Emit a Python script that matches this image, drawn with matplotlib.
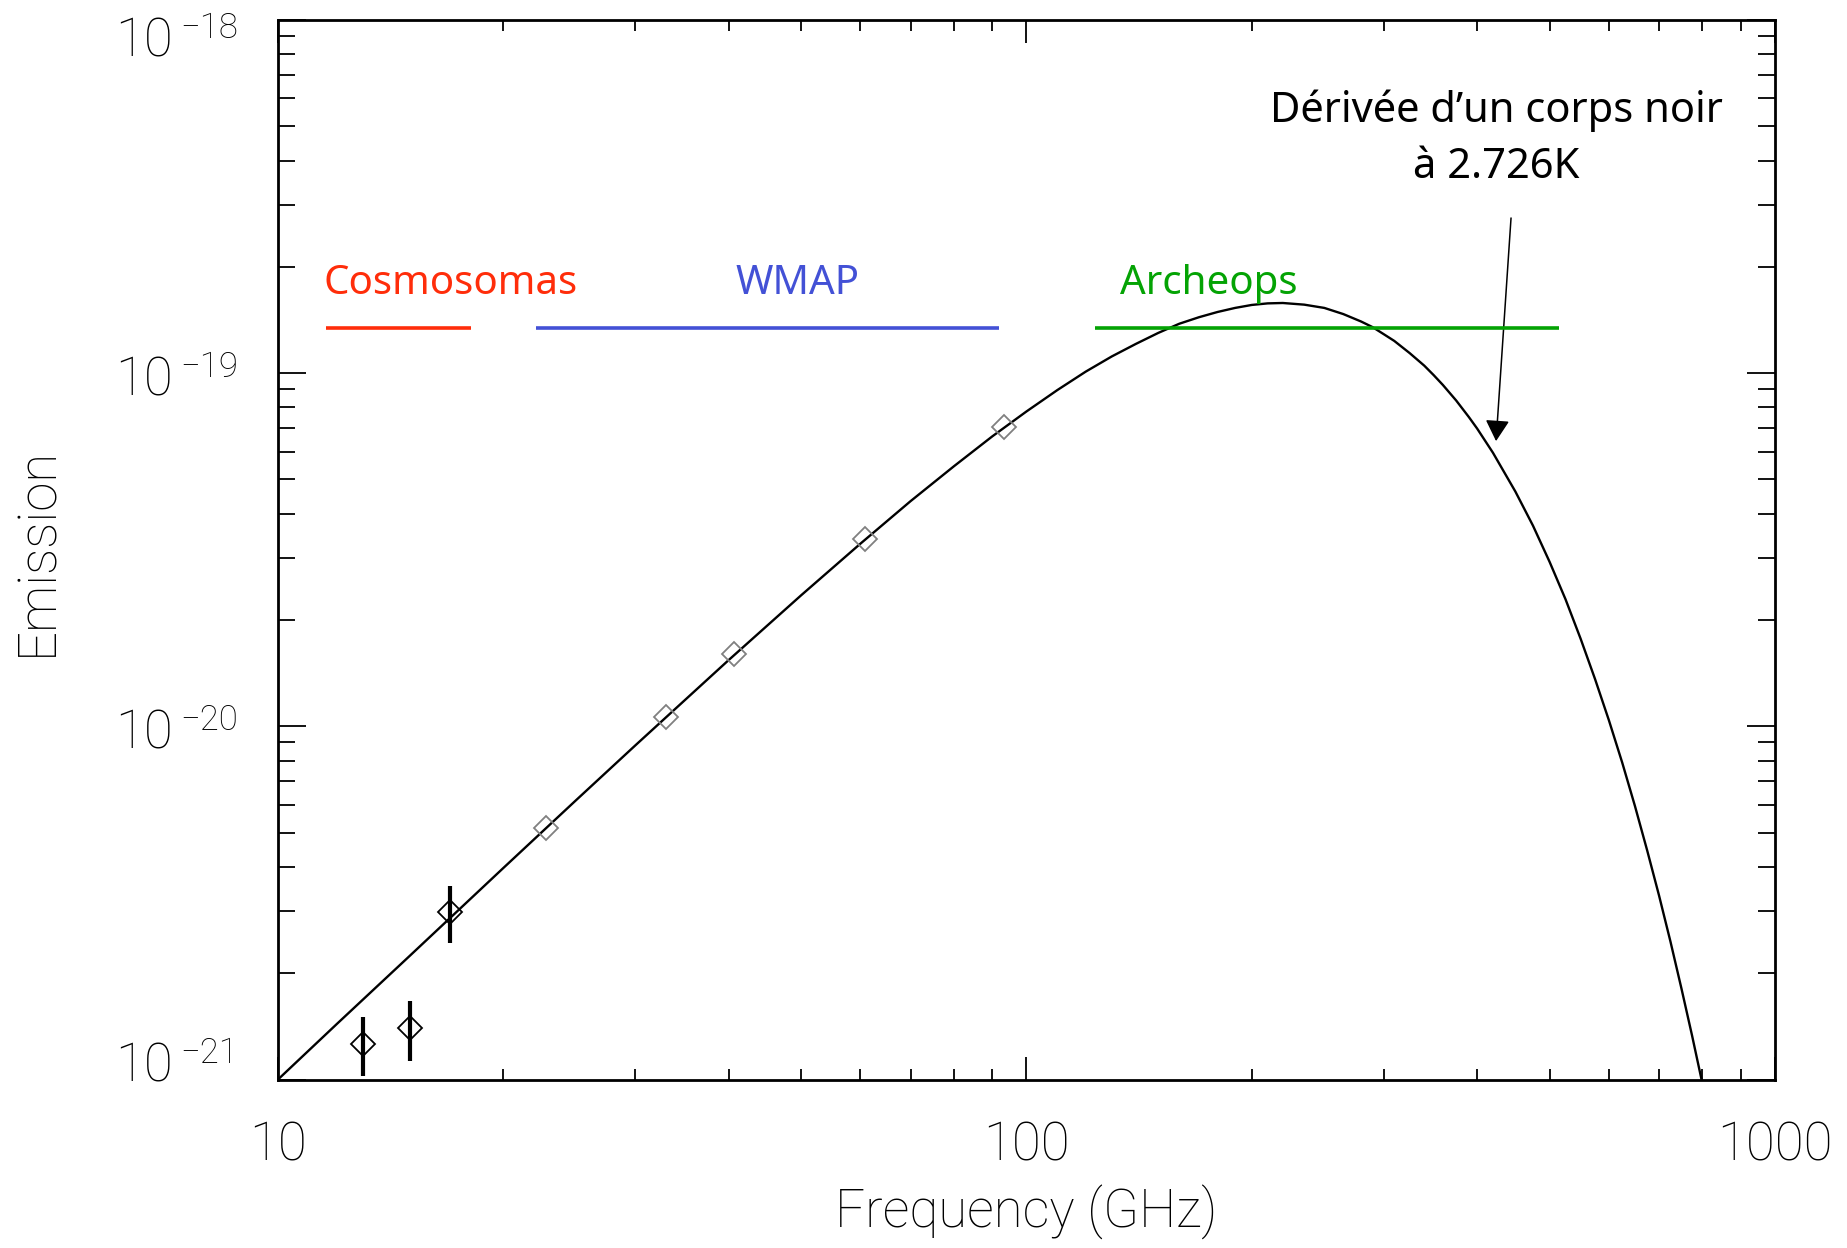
import matplotlib
matplotlib.use("Agg")
import matplotlib.pyplot as plt
from matplotlib.ticker import FixedLocator, FuncFormatter, LogLocator, NullFormatter

# Derivative of a 2.726 K blackbody, sampled along the curve (GHz, emission)
freq = [10, 12, 15, 20, 25, 30, 40, 50, 60, 70, 80, 90, 100, 110, 120, 130,
        140, 150, 160, 170, 180, 190, 200, 210, 220, 235, 250, 265, 280, 290,
        300, 310, 325, 340, 350, 360, 375, 390, 400, 420, 450, 475, 500, 525,
        550, 575, 600, 625, 650, 675, 700, 725, 750, 775, 800]
emission = [1.00e-21, 1.44e-21, 2.24e-21, 3.97e-21, 6.17e-21, 8.82e-21,
            1.54e-20, 2.35e-20, 3.29e-20, 4.34e-20, 5.45e-20, 6.62e-20,
            7.79e-20, 8.96e-20, 1.01e-19, 1.115e-19, 1.21e-19, 1.30e-19,
            1.38e-19, 1.44e-19, 1.49e-19, 1.53e-19, 1.56e-19, 1.576e-19,
            1.58e-19, 1.563e-19, 1.53e-19, 1.47e-19, 1.40e-19, 1.35e-19,
            1.29e-19, 1.234e-19, 1.14e-19, 1.05e-19, 9.87e-20, 9.26e-20,
            8.37e-20, 7.51e-20, 6.97e-20, 5.95e-20, 4.62e-20, 3.70e-20,
            2.92e-20, 2.29e-20, 1.77e-20, 1.36e-20, 1.04e-20, 7.90e-21,
            5.95e-21, 4.45e-21, 3.32e-21, 2.46e-21, 1.81e-21, 1.33e-21,
            9.73e-22]

# WMAP channels
wmap_freq = [22.8, 33.0, 40.7, 60.8, 93.2]
wmap_emis = [5.15e-21, 1.06e-20, 1.60e-20, 3.40e-20, 7.06e-20]

# Cosmosomas measurements with error bars
cosmo_freq = [13, 15, 17]
cosmo_emis = [1.26e-21, 1.40e-21, 2.98e-21]
cosmo_err = [0.24e-21, 0.27e-21, 0.55e-21]

# frequency coverage of each experiment
bands = ["Cosmosomas", "WMAP", "Archeops"]
band_lo = [11.6, 22.1, 123.6]
band_hi = [18.1, 91.9, 514]
band_level = 1.34e-19
band_colors = ["#ff2d0a", "#4351d6", "#04a304"]

# y axis decades and their exponents
ytick_vals = [1e-21, 1e-20, 1e-19, 1e-18]
ytick_exps = ["\u221221", "\u221220", "\u221219", "\u221218"]

plt.rcParams["font.family"] = ["Roboto", "DejaVu Sans"]
plt.rcParams["font.weight"] = "light"
plt.rcParams["axes.labelweight"] = "light"

fig = plt.figure(figsize=(18.47, 12.48), dpi=100)
ax = fig.add_axes([0.1505, 0.135, 0.8105, 0.849])

ax.plot(freq, emission, color="black", lw=1.7, zorder=2)
ax.plot(wmap_freq, wmap_emis, "D", ms=12.5, mfc="none", mec="#808080",
        mew=1.3, zorder=3)
ax.errorbar(cosmo_freq, cosmo_emis, yerr=cosmo_err, fmt="D", ms=12.5,
            mfc="none", mec="black", mew=1.3, ecolor="black",
            elinewidth=3, capsize=0, zorder=3)

# band labels centred over each coverage bar
label_freq = [17.0, 49.5, 175.0]
for name, lo, hi, xc, c in zip(bands, band_lo, band_hi, label_freq, band_colors):
    ax.hlines(band_level, lo, hi, colors=c, lw=2.6, zorder=4)
    ax.text(xc, 1.68e-19, name, color=c, ha="center", va="baseline",
            fontsize=29, family="Noto Sans", fontweight="normal")

ax.text(424, 5.15e-19, "Dérivée d’un corps noir", ha="center", va="baseline",
        fontsize=30, family="Noto Sans", fontweight="normal")
ax.text(424, 3.56e-19, "à 2.726K", ha="center", va="baseline",
        fontsize=30, family="Noto Sans", fontweight="normal")
ax.annotate("", xy=(424, 6.42e-20), xytext=(444, 2.75e-19),
            arrowprops=dict(arrowstyle="-|>,head_length=0.65,head_width=0.37",
                            mutation_scale=20, lw=1.1, color="black",
                            shrinkA=0, shrinkB=0))

ax.set_xscale("log")
ax.set_yscale("log")
ax.set_xlim(10, 1000)
ax.set_ylim(1e-21, 1e-18)

ax.xaxis.set_major_locator(FixedLocator([10, 100, 1000]))
ax.xaxis.set_major_formatter(FuncFormatter(lambda v, p: "%g" % v))
ax.xaxis.set_minor_locator(LogLocator(base=10, subs=range(2, 10)))
ax.xaxis.set_minor_formatter(NullFormatter())
ax.yaxis.set_major_locator(FixedLocator(ytick_vals))
ax.yaxis.set_major_formatter(NullFormatter())
ax.yaxis.set_minor_locator(LogLocator(base=10, subs=range(2, 10)))
ax.yaxis.set_minor_formatter(NullFormatter())

ax.tick_params(which="both", direction="in", top=True, right=True,
               colors="black", width=1.3)
ax.tick_params(axis="x", which="major", length=16.5, pad=29, labelsize=38)
ax.tick_params(axis="x", which="minor", length=8)
ax.tick_params(axis="y", which="major", length=20)
ax.tick_params(axis="y", which="minor", length=12)
for s in ax.spines.values():
    s.set_linewidth(2)

# decade labels drawn as "10" plus a raised exponent; the end labels are
# pulled inside the axis range
for i, (v, e) in enumerate(zip(ytick_vals, ytick_exps)):
    shift = 20.5 if i == 0 else (-14.5 if i == len(ytick_vals) - 1 else 0)
    ax.annotate("10", xy=(0, v), xycoords=("axes fraction", "data"),
                xytext=(-163, shift - 22.5), textcoords="offset pixels",
                ha="left", va="baseline", fontsize=38, annotation_clip=False)
    ax.annotate(e, xy=(0, v), xycoords=("axes fraction", "data"),
                xytext=(-98, shift - 4), textcoords="offset pixels",
                ha="left", va="baseline", fontsize=25, annotation_clip=False)

ax.set_xlabel("Frequency (GHz)", fontsize=38, va="center")
ax.xaxis.set_label_coords(0.5, -0.125)
ax.set_ylabel("Emission", fontsize=38, va="center")
ax.yaxis.set_label_coords(-0.1607, 0.498)

fig.savefig("out.png", dpi=100)
